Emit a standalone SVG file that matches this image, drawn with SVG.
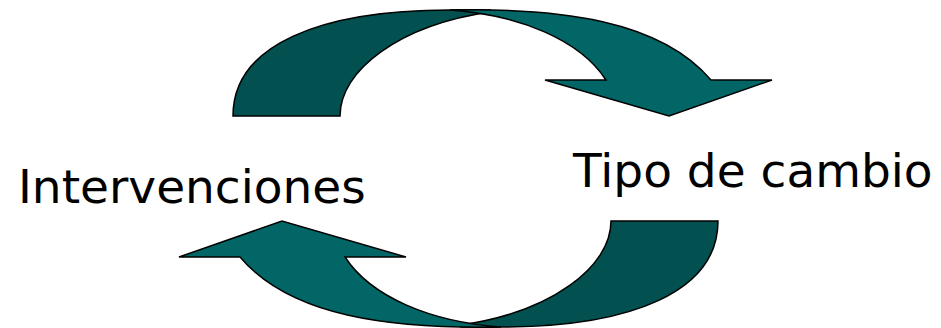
<svg xmlns="http://www.w3.org/2000/svg" width="941" height="328" viewBox="0 0 941 328">
<style>
.dark{fill:#035050;stroke:#000;stroke-width:1.5;stroke-linejoin:miter}
.light{fill:#036666;stroke:#000;stroke-width:1.5;stroke-linejoin:miter}
.lbl{font-family:"DejaVu Sans",Verdana,sans-serif;font-size:47px;fill:#000}
</style>
<rect width="941" height="328" fill="#fff"/>
<g id="connectors">
<g id="arrow-top">
<path class="dark" d="M233,116 C233,45 320,10 450,10 L490,10 L490,12 C400,25 340,70 340,116 Z"/>
<path class="light" d="M450,10 C560,8 660,20 711,80 L772,80 L669,116 L545,80 L606,80 C580,40 520,15 450,10 Z"/>
</g>
<g id="arrow-bottom" transform="rotate(180 475.5 168.5)">
<path class="dark" d="M233,116 C233,45 320,10 450,10 L490,10 L490,12 C400,25 340,70 340,116 Z"/>
<path class="light" d="M450,10 C560,8 660,20 711,80 L772,80 L669,116 L545,80 L606,80 C580,40 520,15 450,10 Z"/>
</g>
</g>
<g id="node-intervenciones"><text class="lbl" x="18" y="203">Intervenciones</text></g>
<g id="node-tipo"><text class="lbl" x="573" y="187">Tipo de cambio</text></g>
</svg>
